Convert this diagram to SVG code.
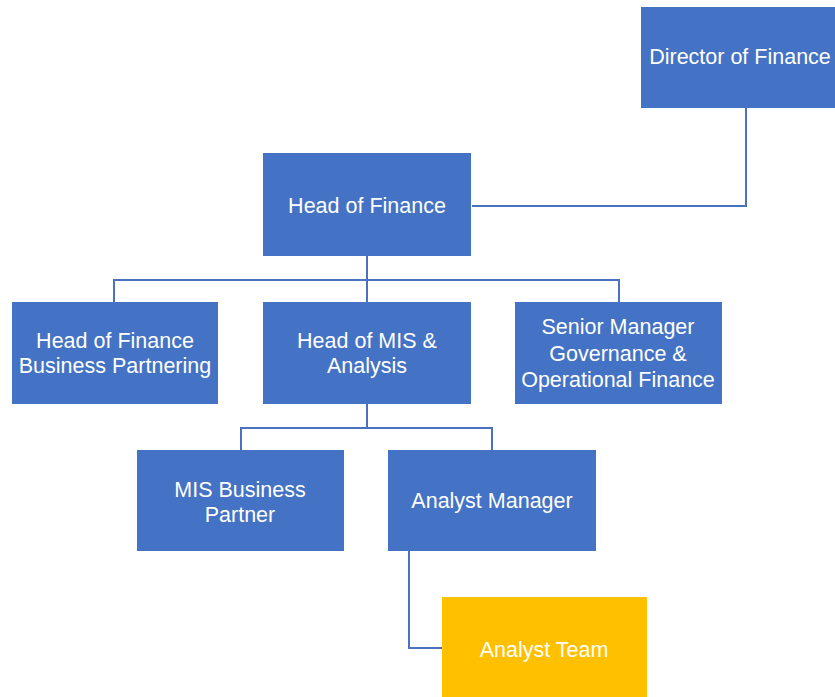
<svg xmlns="http://www.w3.org/2000/svg" width="835" height="697" viewBox="0 0 835 697">
<style>
.box{fill:#4472C4}
.yel{fill:#FFC000}
.t{font-family:"Liberation Sans",Arial,sans-serif;font-size:21.5px;fill:#ffffff;text-anchor:middle}
.c{fill:none;stroke:#4A72BF;stroke-width:2}
</style>
<rect width="835" height="697" fill="#ffffff"/>
<g id="connectors">
<polyline class="c" points="746,108 746,206 472,206"/>
<polyline class="c" points="367,256 367,280"/>
<polyline class="c" points="114,302 114,280 619,280 619,302"/>
<polyline class="c" points="367,280 367,302"/>
<polyline class="c" points="367,404 367,428"/>
<polyline class="c" points="241,450 241,428 492,428 492,450"/>
<polyline class="c" points="409,551 409,648 442,648"/>
</g>
<g id="director">
<rect class="box" x="641" y="7" width="210" height="101"/>
<text class="t" x="740" y="64">Director of Finance</text>
</g>
<g id="head-finance">
<rect class="box" x="263" y="153" width="208" height="103"/>
<text class="t" x="367" y="213">Head of Finance</text>
</g>
<g id="hof-bp">
<rect class="box" x="12" y="302" width="206" height="102"/>
<text class="t" x="115" y="348">Head of Finance</text>
<text class="t" x="115" y="373">Business Partnering</text>
</g>
<g id="head-mis">
<rect class="box" x="263" y="302" width="208" height="102"/>
<text class="t" x="367" y="348">Head of MIS &amp;</text>
<text class="t" x="367" y="373">Analysis</text>
</g>
<g id="senior-manager">
<rect class="box" x="515" y="302" width="207" height="102"/>
<text class="t" x="618" y="334">Senior Manager</text>
<text class="t" x="618" y="361">Governance &amp;</text>
<text class="t" x="618" y="387">Operational Finance</text>
</g>
<g id="mis-bp">
<rect class="box" x="137" y="450" width="207" height="101"/>
<text class="t" x="240" y="497">MIS Business</text>
<text class="t" x="240" y="522">Partner</text>
</g>
<g id="analyst-manager">
<rect class="box" x="388" y="450" width="208" height="101"/>
<text class="t" x="492" y="508">Analyst Manager</text>
</g>
<g id="analyst-team">
<rect class="yel" x="442" y="597" width="205" height="102"/>
<text class="t" x="544" y="657">Analyst Team</text>
</g>
</svg>
